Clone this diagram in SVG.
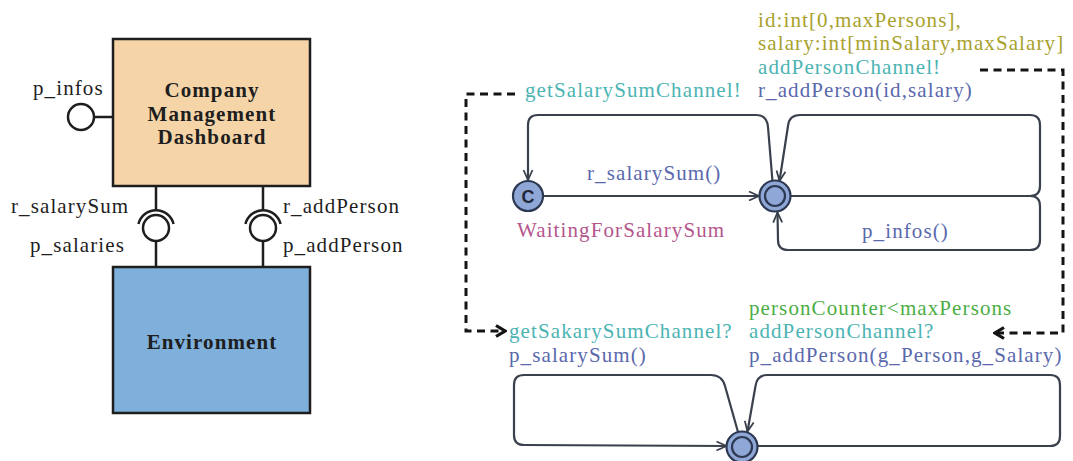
<svg xmlns="http://www.w3.org/2000/svg" width="1073" height="461" viewBox="0 0 1073 461">
<style>
text{font-family:"Liberation Serif","Times New Roman",serif;font-size:21px;letter-spacing:1.1px}
.b{font-weight:bold}
.mid{text-anchor:middle}
.box{stroke:#1e1e1e;stroke-width:2.5}
.port{fill:none;stroke:#1e1e1e;stroke-width:2.5}
.ball{fill:#fff;stroke:#1e1e1e;stroke-width:2.5}
.edge{fill:none;stroke:#3a414d;stroke-width:2.2;stroke-linejoin:round}
.dash{fill:none;stroke:#141414;stroke-width:3;stroke-dasharray:8 5.5}
.loc{fill:#8fa7d6;stroke:#2d3852;stroke-width:2.2}
.ring{fill:none;stroke:#2d3852;stroke-width:2.2}
.cy{fill:#4bb4b3}.ol{fill:#a8a12c}.bl{fill:#5a68ad}.pk{fill:#b4568d}.gr{fill:#4cae45}.dk{fill:#1e1e1e}
</style>
<defs>
<marker id="ah" viewBox="0 0 12 12" refX="11" refY="6" markerWidth="12" markerHeight="12" markerUnits="userSpaceOnUse" orient="auto">
<path d="M1,1.5 L11,6 L1,10.5" fill="none" stroke="#3a414d" stroke-width="1.8"/>
</marker>
<marker id="dh" viewBox="0 0 14 14" refX="12" refY="7" markerWidth="14" markerHeight="14" markerUnits="userSpaceOnUse" orient="auto">
<path d="M3,1.5 L12,7 L3,12.5" fill="none" stroke="#141414" stroke-width="3.2"/>
</marker>
</defs>

<g id="connectors">
<!-- component ports -->
<line class="port" x1="94" y1="117" x2="113" y2="117"/>
<line class="port" x1="156" y1="186" x2="156" y2="210"/>
<line class="port" x1="156" y1="241" x2="156" y2="267"/>
<line class="port" x1="263" y1="186" x2="263" y2="210"/>
<line class="port" x1="263" y1="241" x2="263" y2="267"/>
<!-- automaton transitions -->
<path class="edge" marker-end="url(#ah)" d="M772.5,181.5 L768,127 Q767,115 756,115 L538,115 Q528,115 528,125 L528,180"/>
<path class="edge" marker-end="url(#ah)" d="M543,196 L759,196"/>
<path class="edge" marker-end="url(#ah)" d="M791,196 L1030,196 Q1040,196 1040,186 L1040,125 Q1040,115 1030,115 L800,115 Q789,115 788,126 L779.5,181"/>
<path class="edge" marker-end="url(#ah)" d="M791,196 L1030,196 Q1040,196 1040,206 L1040,240 Q1040,250 1030,250 L788,250 Q778,250 778,240 L777.5,212.5"/>
<path class="edge" marker-end="url(#ah)" d="M738,432 L725,386 Q722,375 711,375 L524,375 Q514,375 514,385 L514,435 Q514,445 524,445 L726.5,446"/>
<path class="edge" marker-end="url(#ah)" d="M757.5,446 L1050,446 Q1060,446 1060,436 L1060,385 Q1060,375 1050,375 L767,375 Q757,375 755.5,386 L747.5,431.5"/>
<!-- dashed synchronisation arrows -->
<path class="dash" marker-end="url(#dh)" d="M515,94 L466,94 L466,331 L505,331"/>
<path class="dash" marker-end="url(#dh)" d="M980,70 L1063,70 L1063,333 L995,333"/>
</g>

<g id="company">
<rect class="box" x="113" y="39" width="197" height="147" fill="#f5d5a8"/>
<text class="b mid dk" x="212" y="97">Company</text>
<text class="b mid dk" x="212" y="121">Management</text>
<text class="b mid dk" x="212" y="144">Dashboard</text>
</g>
<g id="environment">
<rect class="box" x="113" y="267" width="197" height="146" fill="#7eb0db"/>
<text class="b mid dk" x="212" y="349">Environment</text>
</g>
<g id="port-p_infos">
<circle class="ball" cx="81" cy="117" r="13"/>
<text class="dk" x="33" y="95">p_infos</text>
</g>
<g id="port-salary">
<path class="port" d="M138.5,224 A18,18 0 0 1 173.5,224"/>
<circle class="ball" cx="156" cy="228" r="13"/>
<text class="dk" x="11" y="213">r_salarySum</text>
<text class="dk" x="30" y="252">p_salaries</text>
</g>
<g id="port-addPerson">
<path class="port" d="M245.5,224 A18,18 0 0 1 280.5,224"/>
<circle class="ball" cx="263" cy="228" r="13"/>
<text class="dk" x="283" y="213">r_addPerson</text>
<text class="dk" x="283" y="252">p_addPerson</text>
</g>

<g id="loc-waiting">
<circle class="loc" cx="528" cy="196" r="15"/>
<text x="528" y="203" text-anchor="middle" style="font-family:'Liberation Sans',Arial,sans-serif;font-weight:bold;font-size:18px;letter-spacing:0" fill="#1f2638">C</text>
<text class="pk" x="517" y="237">WaitingForSalarySum</text>
</g>
<g id="loc-dashboard">
<circle class="loc" cx="775" cy="196" r="15.5"/>
<circle class="ring" cx="775" cy="196" r="10"/>
</g>
<g id="loc-environment">
<circle class="loc" cx="742" cy="447" r="15.5"/>
<circle class="ring" cx="742" cy="447" r="10"/>
</g>

<g id="labels">
<text class="cy" x="525" y="97">getSalarySumChannel!</text>
<text class="ol" x="758" y="27">id:int[0,maxPersons],</text>
<text class="ol" x="758" y="50">salary:int[minSalary,maxSalary]</text>
<text class="cy" x="758" y="73.5">addPersonChannel!</text>
<text class="bl" x="758" y="97">r_addPerson(id,salary)</text>
<text class="bl" x="587" y="180">r_salarySum()</text>
<text class="bl" x="862" y="238">p_infos()</text>
<text class="cy" x="509" y="338">getSakarySumChannel?</text>
<text class="bl" x="509" y="362">p_salarySum()</text>
<text class="gr" x="749" y="315">personCounter&lt;maxPersons</text>
<text class="cy" x="749" y="338">addPersonChannel?</text>
<text class="bl" x="749" y="362">p_addPerson(g_Person,g_Salary)</text>
</g>
</svg>
